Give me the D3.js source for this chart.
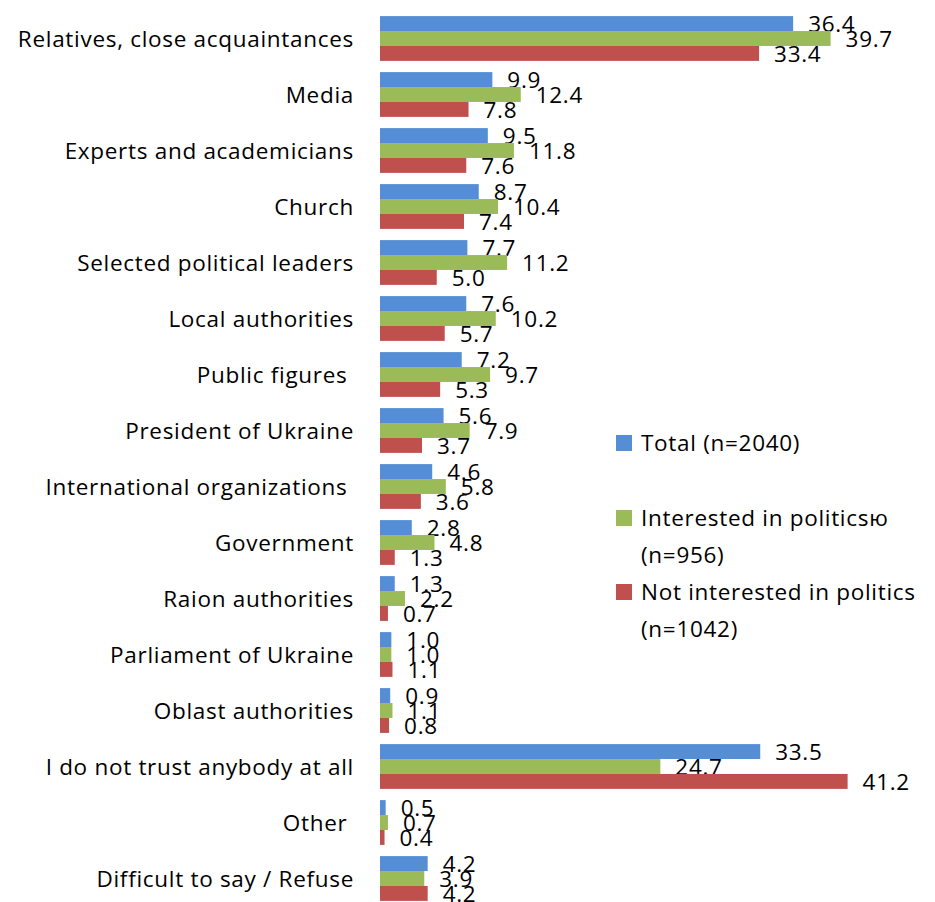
<!DOCTYPE html>
<html>
<head>
  <script src="https://d3js.org/d3.v7.min.js"></script>
  <style>
    body { margin: 0; background: #fff; }
    text { font-family: "Open Sans", "Noto Sans", sans-serif; fill: #000; white-space: pre; letter-spacing: 0.7px; }
  </style>
</head>
<body>
<script type="text/javascript">

  var w = 935;
  var h = 902;

  // data
  var categories = ["Relatives, close acquaintances", "Media", "Experts and academicians", "Church",
    "Selected political leaders", "Local authorities", "Public figures ", "President of Ukraine",
    "International organizations ", "Government", "Raion authorities", "Parliament of Ukraine",
    "Oblast authorities", "I do not trust anybody at all", "Other ", "Difficult to say / Refuse"];
  var seriesNames = ["Total (n=2040)", "Interested in politicsю (n=956)", "Not interested in politics (n=1042)"];
  var total = [36.4, 9.9, 9.5, 8.7, 7.7, 7.6, 7.2, 5.6, 4.6, 2.8, 1.3, 1.0, 0.9, 33.5, 0.5, 4.2];
  var interested = [39.7, 12.4, 11.8, 10.4, 11.2, 10.2, 9.7, 7.9, 5.8, 4.8, 2.2, 1.0, 1.1, 24.7, 0.7, 3.9];
  var notInterested = [33.4, 7.8, 7.6, 7.4, 5.0, 5.7, 5.3, 3.7, 3.6, 1.3, 0.7, 1.1, 0.8, 41.2, 0.4, 4.2];
  var colors = ["#558ED5", "#9BBB59", "#C0504D"];

  var series = [total, interested, notInterested];

  var svg = d3.select("body").append("svg")
          .attr("width", w)
          .attr("height", h);

  var fs = 22.5;

  var xScale = d3.scaleLinear()
          .domain([0, 45])
          .range([380, 380 + 45 * 11.35]);

  var yScale = d3.scaleBand()
          .domain(categories)
          .range([10.5, 906.5])
          .paddingInner(0.2)
          .paddingOuter(0.1);

  var ySub = d3.scaleBand()
          .domain([0, 1, 2])
          .range([0, yScale.bandwidth()]);

  var groups = svg.selectAll("g.cat")
          .data(categories)
          .enter()
          .append("g")
          .attr("class", "cat")
          .attr("transform", function(d){ return "translate(0," + yScale(d) + ")"; });

  // bars + value labels
  groups.each(function(c, i){
    var g = d3.select(this);
    series.forEach(function(s, j){
      g.append("rect")
        .attr("x", xScale(0))
        .attr("y", ySub(j))
        .attr("width", xScale(s[i]) - xScale(0))
        .attr("height", ySub.bandwidth())
        .attr("fill", colors[j]);
      g.append("text")
        .attr("x", xScale(s[i]) + 15)
        .attr("y", ySub(j) + ySub.bandwidth() / 2)
        .attr("dy", "0.36em")
        .style("font-size", fs + "px")
        .text(s[i].toFixed(1));
    });
  });

  // category labels
  groups.append("text")
          .attr("x", 354)
          .attr("y", yScale.bandwidth() / 2)
          .attr("dy", "0.36em")
          .attr("text-anchor", "end")
          .style("font-size", fs + "px")
          .text(function(d){ return d; });

  // legend
  var legendLines = [["Total (n=2040)"], ["Interested in politicsю", "(n=956)"], ["Not interested in politics", "(n=1042)"]];
  var legendY = [443, 518, 592];
  legendLines.forEach(function(lines, j){
    svg.append("rect")
      .attr("x", 616)
      .attr("y", legendY[j] - 8)
      .attr("width", 16)
      .attr("height", 16)
      .attr("fill", colors[j]);
    lines.forEach(function(t, k){
      svg.append("text")
        .attr("x", 641)
        .attr("y", legendY[j] + k * 37)
        .attr("dy", "0.36em")
        .style("font-size", fs + "px")
        .text(t);
    });
  });

</script>
</body>
</html>
